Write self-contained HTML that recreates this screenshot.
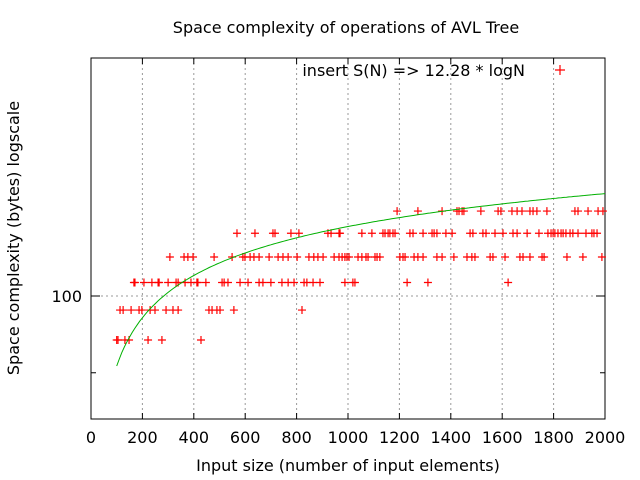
<!DOCTYPE html>
<html><head><meta charset="utf-8"><style>
html,body{margin:0;padding:0;background:#fff}
svg{display:block}
text{font-family:"DejaVu Sans","Liberation Sans",sans-serif;font-size:16px;fill:#000}
</style></head><body>
<svg id="chart" width="640" height="480">
<rect x="0" y="0" width="640" height="480" fill="#fff"/>
<g id="grid"></g>
<rect x="91" y="58" width="514" height="361" fill="none" stroke="#000" stroke-width="1"/>
<g id="axes"></g>
<g id="marks"></g>
<text x="346" y="33" text-anchor="middle">Space complexity of operations of AVL Tree</text>
<text x="348" y="471" text-anchor="middle">Input size (number of input elements)</text>
<text transform="translate(19,238) rotate(-90)" text-anchor="middle">Space complexity (bytes) logscale</text>
<text x="525" y="76" text-anchor="end">insert S(N) =&gt; 12.28 * logN</text>
<path d="M555 70h10M560 65v10" stroke="#f00" stroke-width="1.2"/>
</svg>
<script>
const xTicks=[0,200,400,600,800,1000,1200,1400,1600,1800,2000];
const yTickLabels=[100];
const yMinorTicks=[80];
const rowValues=[128,120,112,104,96,88];
const row128=[1191,1272,1366,1424,1432,1444,1451,1517,1584,1595,1638,1658,1677,1708,1720,1735,1774,1883,1895,1934,1973,1992];
const row120=[568,638,708,716,778,809,922,934,965,969,1054,1093,1136,1144,1156,1163,1175,1183,1241,1253,1292,1327,1335,1346,1381,1405,1475,1486,1525,1537,1572,1603,1642,1658,1697,1743,1778,1790,1798,1805,1817,1829,1837,1848,1864,1875,1895,1926,1949,1957,1969];
const row112=[307,362,377,397,479,549,591,599,619,634,654,693,728,747,767,802,848,867,883,903,946,965,977,988,996,1004,1039,1054,1070,1078,1105,1113,1124,1202,1214,1222,1257,1272,1292,1346,1366,1412,1463,1482,1494,1553,1564,1611,1669,1681,1708,1755,1763,1852,1914,1988];
const row104=[167,171,206,237,261,265,300,331,339,366,389,412,416,447,510,518,533,580,611,654,669,700,743,767,790,829,840,864,891,988,1019,1027,1230,1311,1623];
const row96=[113,125,156,187,198,230,249,292,319,339,459,471,490,502,556,821];
const row88=[100,105,132,148,222,276,428];
const fitCoef=12.28;
const NS="http://www.w3.org/2000/svg";
const X=n=>91+n*514/2000;
const Y=v=>296-344*Math.log(v/100);
function mk(tag,attrs,parent){const e=document.createElementNS(NS,tag);for(const k in attrs)e.setAttribute(k,attrs[k]);parent.appendChild(e);return e;}
const grid=document.getElementById('grid'),axes=document.getElementById('axes'),marks=document.getElementById('marks');
xTicks.forEach(t=>{
  const x=X(t);
  if(t>0&&t<2000){const g=mk('line',{x1:x,x2:x,y1:58,y2:419,stroke:'#999','stroke-dasharray':'2,3'},grid);
  
  }
  mk('line',{x1:x,x2:x,y1:419,y2:413,stroke:'#000'},axes);
  mk('line',{x1:x,x2:x,y1:58,y2:64,stroke:'#000'},axes);
  const tx=mk('text',{x:x,y:443,'text-anchor':'middle'},axes);tx.textContent=t;
  
  
});
yTickLabels.forEach(v=>{
  const y=Y(v);
  const g=mk('line',{x1:91,x2:605,y1:y,y2:y,stroke:'#999','stroke-dasharray':'2,3'},grid);
  
  
  mk('line',{x1:91,x2:100,y1:y,y2:y,stroke:'#000'},axes);
  mk('line',{x1:605,x2:596,y1:y,y2:y,stroke:'#000'},axes);
  const tx=mk('text',{x:82,y:y+6,'text-anchor':'end'},axes);tx.textContent=v;
  
  
});
yMinorTicks.forEach(v=>{const y=Y(v);mk('line',{x1:91,x2:96,y1:y,y2:y,stroke:'#000'},axes);mk('line',{x1:605,x2:600,y1:y,y2:y,stroke:'#000'},axes);});
const rows=[row128,row120,row112,row104,row96,row88];
rows.forEach((r,i)=>{const v=rowValues[i];r.forEach(n=>{
  const x=X(n),y=Y(v);
  const p=mk('path',{d:`M${x-4} ${y}h8M${x} ${y-4}v8`,stroke:'#f00','stroke-width':1.2},marks);
  
  
});});
let d='';
for(let n=100;n<=2000;n+=10){d+=(n===100?'M':'L')+X(n).toFixed(1)+' '+Y(fitCoef*Math.log2(n)).toFixed(1);}
const c=mk('path',{d:d,fill:'none',stroke:'#00b000','stroke-width':1},marks);


</script>
</body></html>
